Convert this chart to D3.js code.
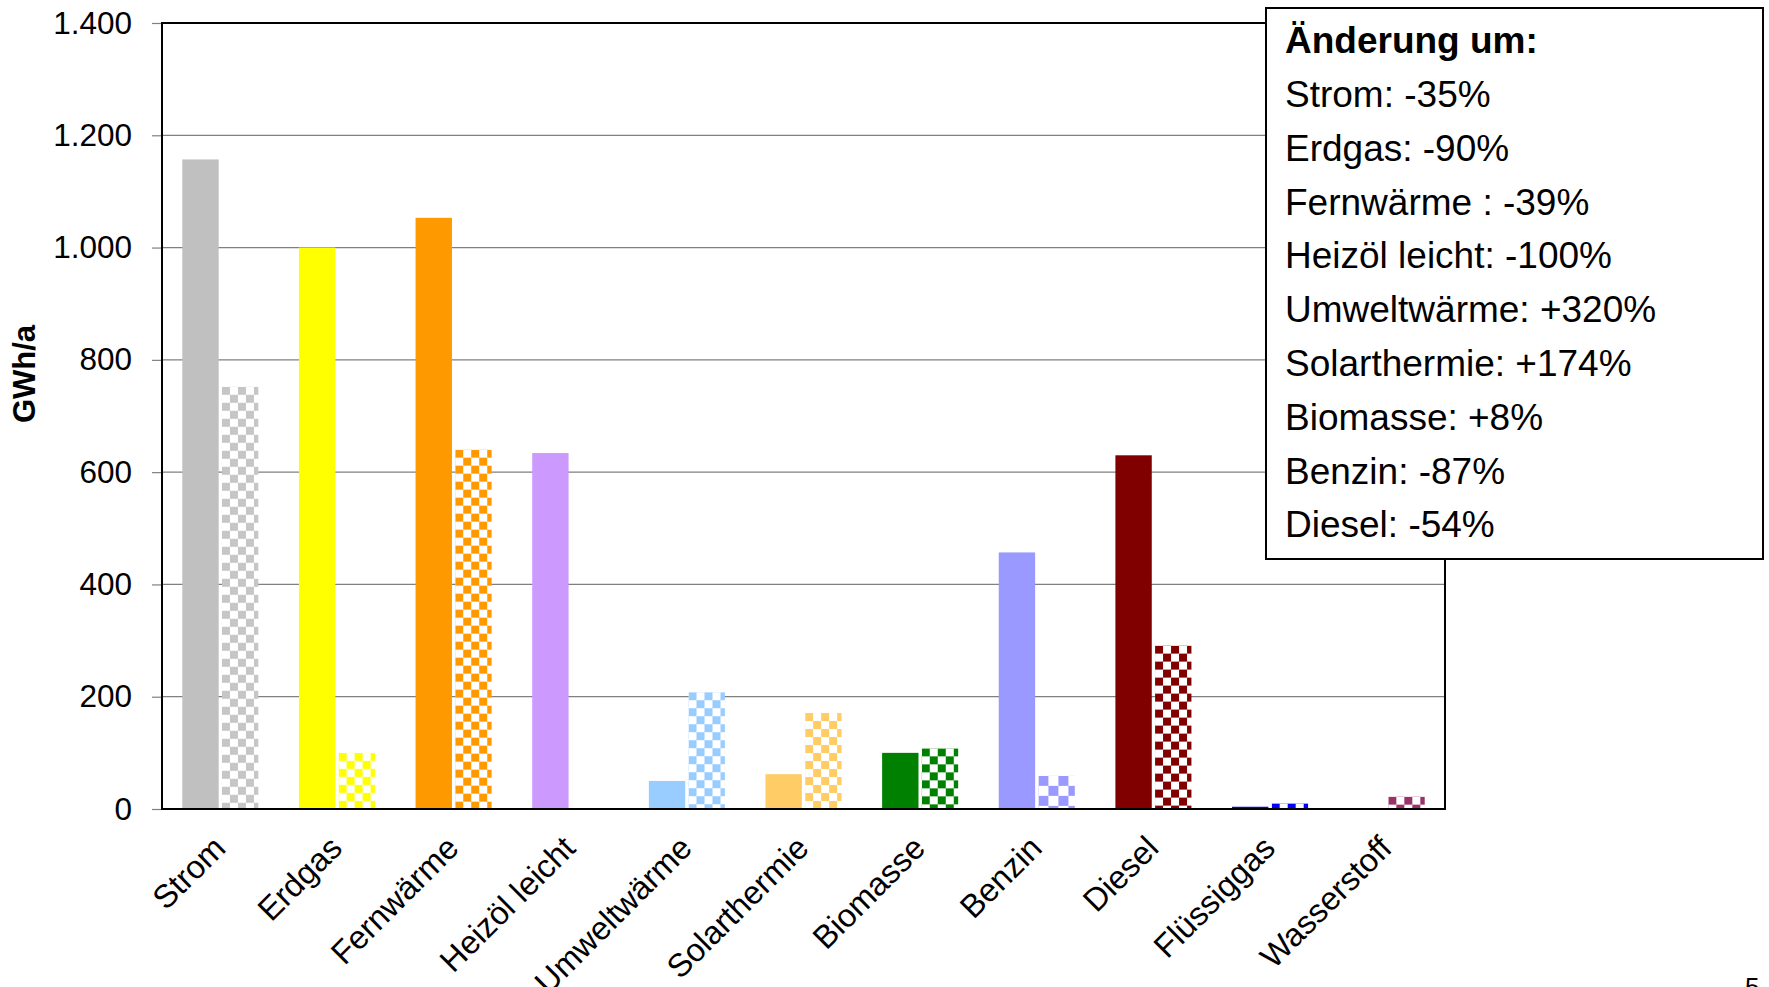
<!DOCTYPE html>
<html>
<head>
<meta charset="utf-8">
<script src="https://cdn.jsdelivr.net/npm/d3@7"></script>
<style>
  html, body { margin: 0; padding: 0; background: #fff; }
  svg { display: block; font-family: Arial, "Liberation Sans", sans-serif; }
</style>
</head>
<body>
<svg id="chart" width="1769" height="987"></svg>
<script>
// Endenergie nach Energieträgern: Bestand (volle Säule) und Zielwert (kariert)
const categories = ["Strom", "Erdgas", "Fernwärme", "Heizöl leicht", "Umweltwärme",
  "Solarthermie", "Biomasse", "Benzin", "Diesel", "Flüssiggas", "Wasserstoff"];
const valuesBestand = [1157, 1000, 1053, 634, 50, 62, 100, 457, 630, 4, 0];
const valuesZiel = [752, 100, 640, 0, 208, 171, 108, 59, 291, 10, 22];
const barColors = ["#C0C0C0", "#FFFF00", "#FF9900", "#CC99FF", "#99CCFF",
  "#FFCC66", "#008000", "#9999FF", "#800000", "#0000FF", "#993366"];
const checkerColors = ["#C6C6C6", "#FFFF00", "#FF9900", "#CC99FF", "#99CCFF",
  "#FFCC66", "#008000", "#9999FF", "#800000", "#0000FF", "#993366"];
const checkerCell = [8, 8, 8, 8, 8, 8, 8, 10, 8, 8, 8];
const yTicks = [0, 200, 400, 600, 800, 1000, 1200, 1400];
const yTitle = "GWh/a";
const legendTitle = "Änderung um:";
const legendLines = ["Strom: -35%", "Erdgas: -90%", "Fernwärme : -39%", "Heizöl leicht: -100%",
  "Umweltwärme: +320%", "Solarthermie: +174%", "Biomasse: +8%", "Benzin: -87%", "Diesel: -54%"];
const pageNumber = "5";

const svg = d3.select("#chart");
const plot = { left: 162, right: 1445, top: 23, bottom: 809 };

const de = d3.formatLocale({ decimal: ",", thousands: ".", grouping: [3], currency: ["", " €"] });
const fmt = de.format(",");

const x = d3.scaleBand().domain(categories).range([plot.left, plot.right])
  .paddingInner(0.348).paddingOuter(0.174);
const xSub = d3.scaleBand().domain(["bestand", "ziel"]).range([0, x.bandwidth()])
  .paddingInner(0.083).paddingOuter(0);
const y = d3.scaleLinear().domain([0, 1400]).range([plot.bottom, plot.top]);

const defs = svg.append("defs");
defs.append("filter").attr("id", "soft").attr("x", "-5%").attr("y", "-5%")
  .attr("width", "110%").attr("height", "110%")
  .append("feGaussianBlur").attr("stdDeviation", 0.6);

// Gitterlinien
svg.append("g").selectAll("line").data(yTicks.filter(d => d > 0)).join("line")
  .attr("x1", plot.left).attr("x2", plot.right)
  .attr("y1", d => y(d)).attr("y2", d => y(d))
  .attr("stroke", "#808080").attr("stroke-width", 1.2);

// Y-Achse mit Teilstrichen und Beschriftung
const yAxis = d3.axisLeft(y).tickValues(yTicks).tickFormat(fmt).tickSize(10).tickPadding(20);
const gy = svg.append("g").attr("transform", `translate(${plot.left},0)`).call(yAxis);
gy.select(".domain").remove();
gy.selectAll(".tick line").attr("stroke", "#808080").attr("stroke-width", 1.2);
gy.selectAll(".tick text").attr("font-size", 31.5).attr("fill", "#000")
  .attr("font-family", "Arial, 'Liberation Sans', sans-serif");

// Säulen Bestand
const rows = categories.map((c, i) => ({ c, i, a: valuesBestand[i], b: valuesZiel[i] }));
svg.append("g").selectAll("rect").data(rows).join("rect")
  .attr("x", d => x(d.c) + xSub("bestand"))
  .attr("y", d => y(d.a))
  .attr("width", xSub.bandwidth())
  .attr("height", d => y(0) - y(d.a))
  .attr("fill", d => barColors[d.i]);

// Säulen Ziel mit Karomuster
rows.forEach(d => {
  const bx = x(d.c) + xSub("ziel");
  const by = y(d.b);
  const s = checkerCell[d.i];
  const p = defs.append("pattern").attr("id", "chk" + d.i)
    .attr("patternUnits", "userSpaceOnUse")
    .attr("x", bx).attr("y", by).attr("width", 2 * s).attr("height", 2 * s);
  p.append("rect").attr("width", 2 * s).attr("height", 2 * s).attr("fill", "#fff");
  p.append("rect").attr("width", s).attr("height", s).attr("fill", checkerColors[d.i]);
  p.append("rect").attr("x", s).attr("y", s).attr("width", s).attr("height", s).attr("fill", checkerColors[d.i]);
});
svg.append("g").selectAll("rect").data(rows.filter(d => d.b > 0)).join("rect")
  .attr("x", d => x(d.c) + xSub("ziel"))
  .attr("y", d => y(d.b))
  .attr("width", xSub.bandwidth())
  .attr("height", d => y(0) - y(d.b))
  .attr("fill", d => `url(#chk${d.i})`)
  .attr("filter", "url(#soft)");

// Rahmen des Diagrammbereichs
svg.append("rect")
  .attr("x", plot.left).attr("y", plot.top)
  .attr("width", plot.right - plot.left).attr("height", plot.bottom - plot.top)
  .attr("fill", "none").attr("stroke", "#000").attr("stroke-width", 2);

// Kategorien, um 45° gedreht
svg.append("g").selectAll("text").data(categories).join("text")
  .attr("transform", d => `translate(${x(d) + x.bandwidth() / 2 + 7},850) rotate(-45)`)
  .attr("text-anchor", "end")
  .attr("font-size", 32.5)
  .attr("fill", "#000")
  .text(d => d);

// Achsentitel
svg.append("text")
  .attr("transform", "translate(35,374) rotate(-90)")
  .attr("text-anchor", "middle")
  .attr("font-size", 31).attr("font-weight", "bold")
  .text(yTitle);

// Kasten mit den Veränderungen
const lg = svg.append("g");
lg.append("rect").attr("x", 1266).attr("y", 8).attr("width", 497).attr("height", 551)
  .attr("fill", "#fff").attr("stroke", "#000").attr("stroke-width", 2);
lg.append("text").attr("x", 1285).attr("y", 53).attr("font-size", 37).attr("font-weight", "bold")
  .text(legendTitle);
lg.selectAll("text.line").data(legendLines).join("text").attr("class", "line")
  .attr("x", 1285).attr("y", (d, i) => 107 + i * 53.8)
  .attr("font-size", 37)
  .text(d => d);

// Seitenzahl
svg.append("text").attr("x", 1745).attr("y", 996).attr("font-size", 26).text(pageNumber);
</script>
</body>
</html>
